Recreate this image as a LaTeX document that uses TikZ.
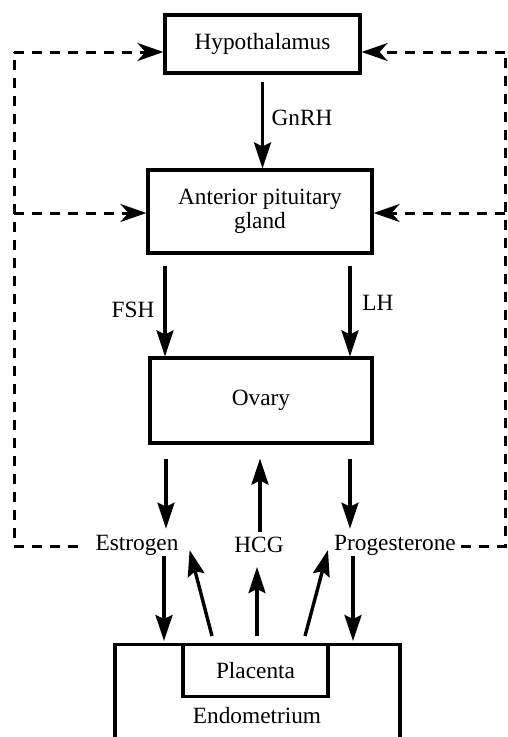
\documentclass[tikz,border=0pt]{standalone}
\usepackage{fontspec}
\setmainfont{Liberation Serif}
\usetikzlibrary{arrows.meta}
\begin{document}
\begin{tikzpicture}[x=1pt,y=-1pt,
  every node/.style={font=\fontsize{23.3}{26}\selectfont},
  box/.style={draw,line width=3.2pt,rectangle,inner sep=0pt,align=center},
  lbl/.style={inner sep=1pt},
  arr/.style={line width=3.4pt,-{Stealth[length=26pt,width=17pt,inset=4pt]}},
  fb/.style={line width=3pt,dash pattern=on 10pt off 8pt,-{Stealth[length=26pt,width=18pt,inset=8pt]}},
  fbl/.style={line width=3pt,dash pattern=on 10pt off 8pt}]
\clip (0,0) rectangle (507,737);
% boxes
\node[box,minimum width=195pt,minimum height=58pt] (hyp) at (262.5,44) {Hypothalamus};
\node[box,minimum width=224pt,minimum height=83pt] (ant) at (260,211.5) {Anterior pituitary\\[-2pt]gland};
\node[box,minimum width=222pt,minimum height=85pt] (ov) at (261,400.5) {Ovary};
\node[box,minimum width=285pt,minimum height=150pt,anchor=north] (endo) at (257.5,643) {};
\node[box,minimum width=145pt,minimum height=52pt,anchor=north] (pla) at (255.5,643) {Placenta};
\node (endotext) at (257,716) {Endometrium};
% hormone labels
\node[lbl] (est) at (137,545) {Estrogen};
\node[lbl] (hcg) at (259,545) {HCG};
\node[lbl] (prog) at (395,545) {Progesterone};
\node[lbl] (gnrh) at (302,118) {GnRH};
\node[lbl] (fsh) at (133,310) {FSH};
\node[lbl] (lh) at (378,303) {LH};
% endpoints
\coordinate (f1) at ([xshift=-95pt]ant.south);
\coordinate (l1) at ([xshift=90pt]ant.south);
\coordinate (o1) at ([xshift=-95pt]ov.south);
\coordinate (o2) at ([xshift=89pt]ov.south);
\coordinate (e1) at ([xshift=27pt]est.south);
\coordinate (p1) at ([xshift=-42pt]prog.south);
% solid arrows
\draw[arr,shorten <=7pt] (hyp.south) -- (hyp.south |- ant.north);
\draw[arr,shorten <=11pt] (f1) -- (f1 |- ov.north);
\draw[arr,shorten <=11pt] (l1) -- (l1 |- ov.north);
\draw[arr,shorten <=14pt,shorten >=5pt] (o1) -- (o1 |- est.north);
\draw[arr,shorten <=14pt,shorten >=5pt] (o2) -- (o2 |- prog.north);
\draw[arr,shorten <=4pt,shorten >=14pt] ([xshift=1pt]hcg.north) -- ([xshift=1pt]hcg.north |- ov.south);
\draw[arr,shorten >=2pt] (e1) -- (e1 |- endo.north);
\draw[arr,shorten >=2pt] (p1) -- (p1 |- endo.north);
\draw[arr] ([xshift=-43.5pt,yshift=7pt]pla.north) -- ([xshift=10pt,yshift=-5pt]est.east);
\draw[arr,shorten >=13pt] ([xshift=1.5pt,yshift=7pt]pla.north) -- ([xshift=-2pt]hcg.south);
\draw[arr] ([xshift=49.5pt,yshift=7pt]pla.north) -- ([xshift=-5pt,yshift=-5pt]prog.west);
% feedback dashed lines
\coordinate (TL) at (14,52);
\coordinate (ML) at (14,213);
\coordinate (BL) at (14,546);
\coordinate (TR) at (505,52);
\coordinate (MR) at (505,213);
\coordinate (BR) at (505,546);
\draw[fbl,shorten <=16pt] (est.west |- BL) -- (BL) -- (TL);
\draw[fb] (TL) -- (TL -| hyp.west);
\draw[fb] (ML) -- (ML -| ant.west);
\draw[fbl,shorten <=4pt] (prog.east |- BR) -- (BR) -- (TR);
\draw[fb] (TR) -- (TR -| hyp.east);
\draw[fb] (MR) -- (MR -| ant.east);
\end{tikzpicture}
\end{document}
